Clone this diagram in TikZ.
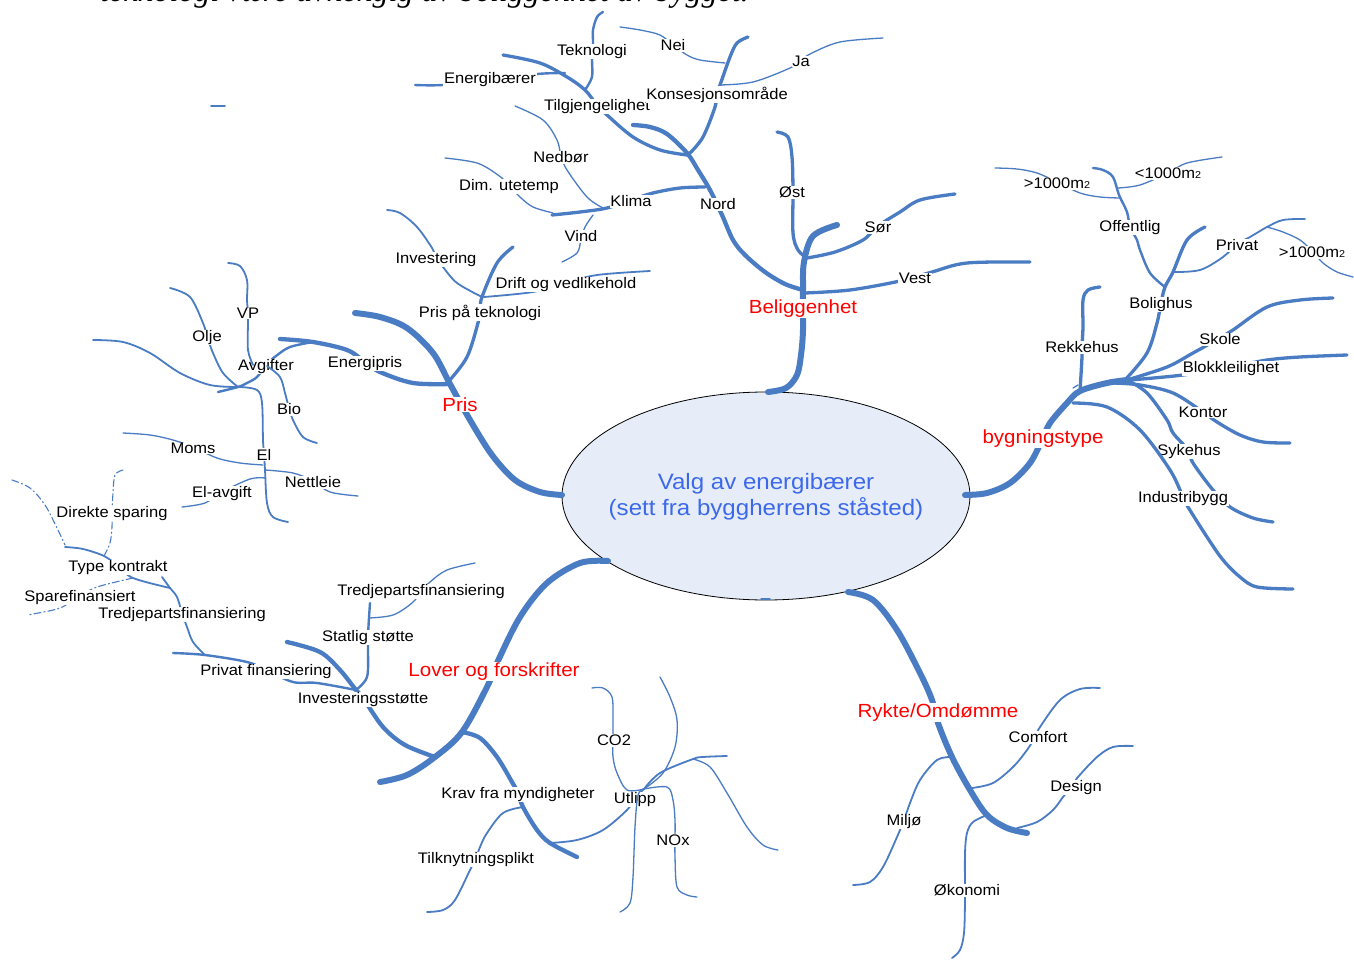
\documentclass[tikz,border=0pt]{standalone}
\usepackage{fontspec}
\setmainfont{Liberation Sans}[FakeStretch=1.08]
\newfontfamily\headserif{Liberation Serif}
\definecolor{branch}{RGB}{74,124,195}
\definecolor{hubfill}{RGB}{230,237,248}
\definecolor{hubtext}{RGB}{60,105,235}
% one organic branch of the mind map, drawn through a list of points
\newcommand\twig[2]{\draw[#1] plot[smooth,tension=0.55] coordinates {#2};}
\newcommand\msq{m{\fontsize{10}{10}\selectfont 2}}
\begin{document}
\begin{tikzpicture}[x=1pt,y=-1pt,
  br/.style={draw=branch,line cap=round,line join=round},
  wa/.style={br,line width=6pt},
  wb/.style={br,line width=4.3pt},
  wc/.style={br,line width=3.3pt},
  wd/.style={br,line width=2.4pt},
  we/.style={br,line width=1.8pt},
  wf/.style={br,line width=1.3pt},
  wdash/.style={br,line width=1.1pt,dash pattern=on 7pt off 3pt on 1.2pt off 3pt},
  lbl/.style={fill=white,inner sep=0.6pt,yshift=-1.5pt,font=\fontsize{15.3}{16}\selectfont},
  cat/.style={fill=white,inner sep=1pt,yshift=-1.5pt,text=red,font=\fontsize{19}{20}\selectfont}]
\useasboundingbox (0,0) rectangle (1354,960);
\clip (0,0) rectangle (1354,960);
\fill[white] (0,0) rectangle (1354,960);

% heading line running off the top edge
\node[anchor=base west,inner sep=0,font=\headserif\itshape\fontsize{32}{36}\selectfont] (head) at (100,1.5) {teknologi være avhengig av beliggenhet av bygget.};

% central topic
\draw[fill=hubfill,line width=0.8pt] (766,496) ellipse [x radius=204pt,y radius=104pt];
\node[align=center,text=hubtext,font=\fontsize{22.3}{26}\selectfont] (hub) at (766,497) {Valg av energibærer\\(sett fra byggherrens ståsted)};
\draw[wf] (761,599) -- (770,599);

% ---------------- Beliggenhet ----------------
\coordinate (belA) at (768,392);
\coordinate (belJ) at (803,290);
\coordinate (belK) at (807,258);
\coordinate (belV) at (805,293);
\twig{wa}{(belA) (786,388) (797,375) (801,355) (803,330) (belJ) (804,262) (813,236) (837,225)}
\node[cat] (bel) at (803,307) {Beliggenhet};

\coordinate (nordK) at (705,187);
\coordinate (nordT) at (687,155);
\twig{wb}{(belJ) (785,284) (765,272) (745,255) (733,240) (722,215) (710,190) (698,170) (687,153) (667,134) (650,127) (633,125)}
\node[lbl] (nord) at (718,203) {Nord};

\twig{wc}{(nordK) (680,188) (653,193) (631,200) (607,208) (580,212) (552,215)}
\node[lbl] (klima) at (631,200) {Klima};
\twig{wc}{(nordT) (660,150) (633,137) (607,115) (597,105) (585,90) (567,77) (540,63) (503,55)}
\node[lbl] (tilg) at (597,105) {Tilgjengelighet};
\twig{wc}{(690,153) (703,137) (715,107) (717,93) (720,85) (730,57) (737,43) (748,37)}
\node[lbl] (kons) at (717,93) {Konsesjonsområde};

\twig{wd}{(565,73) (537,74) (490,80) (443,85) (415,85)}
\node[lbl] (ebar) at (490,78) {Energibærer};
\draw[we] (211,106) -- (225,106);
\twig{wd}{(585,90) (592,77) (592,60) (593,43) (593,30) (597,17) (603,12)}
\node[lbl] (tekn) at (592,50) {Teknologi};
\twig{wf}{(725,63) (700,60) (687,55) (673,45) (660,35) (640,30) (620,27)}
\node[lbl] (nei) at (673,44) {Nei};
\twig{wf}{(720,85) (753,82) (790,68) (801,60) (812,53) (840,42) (883,38)}
\node[lbl] (ja) at (801,60) {Ja};

\twig{wf}{(603,208) (587,197) (567,170) (561,156) (557,140) (543,120) (515,106)}
\node[lbl] (nedb) at (561,156) {Nedbør};
\twig{wf}{(553,213) (533,207) (520,197) (509,185) (498,175) (477,163) (445,158)}
\node[lbl] (dim) at (509,185) {Dim. utetemp};
\twig{wf}{(593,215) (585,227) (581,240) (577,253) (562,262)}
\node[lbl] (vind) at (581,235) {Vind};

\twig{wc}{(777,132) (788,137) (792,157) (793,191) (793,233) (798,250) (belK)}
\node[lbl] (ost) at (792,191) {Øst};
\twig{wc}{(belK) (835,252) (863,240) (878,226) (900,212) (920,200) (955,194)}
\node[lbl] (sor) at (878,226) {Sør};
\twig{wc}{(belV) (850,290) (900,281) (932,272) (967,263) (1030,262)}
\node[lbl] (vest) at (915,277) {Vest};

% ---------------- Pris ----------------
\coordinate (prisA) at (562,495);
\coordinate (prisJ) at (450,384);
\twig{wa}{(prisA) (540,492) (515,480) (492,455) (470,420) (prisJ) (433,353) (407,328) (380,317) (355,313)}
\node[cat] (pris) at (460,403) {Pris};

\coordinate (epJ) at (313,342);
\twig{wb}{(prisJ) (413,383) (380,372) (365,362) (347,350) (epJ) (280,339)}
\node[lbl] (epris) at (365,362) {Energipris};
\coordinate (ptJ) at (482,297);
\twig{wc}{(449,381) (467,357) (478,323) (480,311) (ptJ) (497,263) (513,247)}
\node[lbl] (ptek) at (480,311) {Pris på teknologi};
\twig{we}{(ptJ) (457,283) (443,267) (436,258) (432,248) (417,227) (400,213) (387,210)}
\node[lbl] (inv) at (436,258) {Investering};
\twig{we}{(484,297) (533,292) (566,283) (597,275) (650,271)}
\node[lbl] (drift) at (566,283) {Drift og vedlikehold};

\coordinate (avJ) at (238,387);
\twig{wd}{(epJ) (290,347) (276,356) (266,365) (257,377) (247,383) (avJ) (218,392)}
\node[lbl] (avg) at (266,365) {Avgifter};
\twig{we}{(253,365) (248,350) (248,323) (248,312) (247,300) (247,280) (240,266) (228,263)}
\node[lbl] (vp) at (248,312) {VP};
\twig{we}{(avJ) (223,373) (213,353) (207,336) (203,323) (190,297) (170,288)}
\node[lbl] (olje) at (207,336) {Olje};
\twig{we}{(267,366) (280,377) (285,393) (289,408) (293,420) (303,437) (317,443)}
\node[lbl] (bio) at (289,408) {Bio};
\twig{we}{(93,340) (123,342) (150,353) (180,373) (210,385) (avJ)}
\coordinate (elJ) at (265,470);
\twig{we}{(240,387) (257,390) (262,403) (263,440) (264,453) (elJ) (267,503) (273,517) (288,522)}
\node[lbl] (el) at (264,453) {El};
\twig{wf}{(263,465) (240,463) (217,458) (193,447) (173,440) (150,435) (123,433)}
\node[lbl] (moms) at (193,447) {Moms};
\twig{wf}{(elJ) (293,473) (313,481) (330,492) (358,496)}
\node[lbl] (nett) at (313,481) {Nettleie};
\twig{wf}{(265,478) (250,479) (222,492) (205,503) (182,507)}
\node[lbl] (elavg) at (222,492) {El-avgift};

% ---------------- Lover og forskrifter ----------------
\coordinate (lovA) at (608,561);
\coordinate (lovK) at (462,732);
\coordinate (lovI) at (435,757);
\twig{wa}{(lovA) (580,563) (547,583) (520,617) (497,663) (487,687) (lovK) (lovI) (407,775) (380,782)}
\node[cat] (lover) at (494,670) {Lover og forskrifter};

\coordinate (isJ) at (356,690);
\twig{wb}{(lovI) (405,745) (383,727) (363,698) (isJ) (340,670) (320,652) (287,642)}
\node[lbl] (invst) at (363,698) {Investeringsstøtte};
\coordinate (ssJ) at (369,618);
\twig{wd}{(isJ) (367,677) (368,650) (368,636) (ssJ) (370,603)}
\node[lbl] (statlig) at (368,636) {Statlig støtte};
\twig{wf}{(ssJ) (393,615) (412,603) (422,591) (430,582) (447,570) (475,563)}
\node[lbl] (tredjeR) at (421,590) {Tredjepartsfinansiering};
\coordinate (pfJ) at (205,655);
\twig{wd}{(isJ) (317,683) (293,682) (266,670) (247,662) (pfJ) (173,653)}
\node[lbl] (privfin) at (266,670) {Privat finansiering};
\coordinate (tkJ) at (170,588);
\twig{we}{(pfJ) (193,642) (187,627) (182,613) (177,597) (tkJ) (162,577)}
\node[lbl] (tredjeL) at (182,613) {Tredjepartsfinansiering};
\coordinate (tkA) at (104,556);
\coordinate (tkB) at (133,578);
\twig{we}{(tkJ) (tkB) (118,566) (tkA) (83,549) (65,547)}
\node[lbl] (typek) at (118,566) {Type kontrakt};
\twig{wdash}{(tkA) (110,543) (112,527) (112,512) (113,493) (115,475) (123,470)}
\node[lbl] (direkte) at (112,512) {Direkte sparing};
\twig{wdash}{(tkB) (97,587) (80,596) (60,608) (33,614) (27,615)}
\node[lbl] (spare) at (80,596) {Sparefinansiert};
\twig{wdash}{(12,480) (30,488) (45,505) (57,528) (65,545)}

\coordinate (kvJ) at (523,807);
\coordinate (kvU) at (550,843);
\twig{wb}{(lovK) (480,738) (497,757) (512,782) (518,793) (kvJ) (537,830) (kvU) (577,857)}
\node[lbl] (krav) at (518,793) {Krav fra myndigheter};
\twig{we}{(kvJ) (503,813) (487,833) (480,847) (476,858) (470,870) (455,900) (443,910) (427,912)}
\node[lbl] (tilkn) at (476,858) {Tilknytningsplikt};
\coordinate (utJ) at (644,789);
\twig{we}{(kvU) (577,840) (603,830) (627,810) (635,798) (utJ)}
\node[lbl] (utlipp) at (635,798) {Utlipp};
\twig{wf}{(utJ) (627,790) (617,773) (613,757) (613,739) (613,720) (612,697) (603,688) (592,688)}
\node[lbl] (co2) at (614,739) {CO2};
\twig{wf}{(utJ) (667,787) (673,800) (675,820) (675,839) (675,857) (677,887) (687,895) (697,897)}
\node[lbl] (nox) at (673,839) {NOx};
\twig{wf}{(utJ) (638,795) (635,827) (633,877) (630,903) (620,912)}
\twig{wf}{(utJ) (663,773) (675,747) (677,720) (670,697) (660,677)}
\coordinate (utR) at (693,759);
\twig{we}{(utJ) (660,773) (utR) (703,757) (727,756)}
\twig{wf}{(utR) (710,767) (727,793) (747,827) (763,845) (778,850)}

% ---------------- Rykte/Omdømme ----------------
\coordinate (ryA) at (848,592);
\coordinate (ryM) at (952,757);
\coordinate (ryC) at (972,788);
\coordinate (ryO) at (987,815);
\coordinate (ryD) at (1017,828);
\twig{wa}{(ryA) (873,600) (897,630) (920,673) (932,700) (938,723) (ryM) (970,790) (ryO) (1007,828) (1027,833)}
\node[cat] (rykte) at (938,711) {Rykte/Omdømme};
\twig{we}{(ryM) (937,760) (920,780) (910,803) (904,820) (897,837) (883,867) (870,882) (853,885)}
\node[lbl] (miljo) at (904,820) {Miljø};
\twig{we}{(ryC) (993,783) (1013,767) (1027,750) (1035,737) (1040,727) (1060,700) (1080,689) (1100,688)}
\node[lbl] (comfort) at (1038,736) {Comfort};
\twig{we}{(ryD) (1037,822) (1053,810) (1063,797) (1072,786) (1078,777) (1097,757) (1113,747) (1133,746)}
\node[lbl] (design) at (1076,786) {Design};
\twig{we}{(ryO) (973,822) (967,833) (965,853) (965,889) (965,902) (964,933) (960,950) (952,958)}
\node[lbl] (okon) at (967,889) {Økonomi};

% ---------------- bygningstype ----------------
\coordinate (byA) at (965,495);
\coordinate (byF) at (1127,380);
\coordinate (byR) at (1080,391);
\coordinate (byI) at (1073,403);
\twig{wa}{(byA) (987,493) (1010,483) (1030,463) (1042,440) (1050,423) (1067,403) (byR) (1107,383) (byF)}
\node[cat] (bygn) at (1043,437) {bygningstype};

\coordinate (boJ) at (1165,287);
\coordinate (boP) at (1173,272);
\twig{wc}{(1125,380) (1147,353) (1157,323) (1161,303) (boJ) (boP) (1187,240) (1205,227)}
\node[lbl] (bolig) at (1161,303) {Bolighus};
\twig{wc}{(byF) (1167,367) (1193,353) (1220,338) (1233,330) (1267,307) (1300,300) (1333,298)}
\node[lbl] (skole) at (1220,338) {Skole};
\twig{wc}{(1130,380) (1183,375) (1231,367) (1267,360) (1300,357) (1347,355)}
\node[lbl] (blokk) at (1231,367) {Blokkleilighet};
\twig{wc}{(1113,383) (1140,385) (1173,393) (1203,412) (1217,422) (1240,435) (1263,442) (1290,443)}
\node[lbl] (kontor) at (1203,411) {Kontor};
\twig{wc}{(byF) (1147,393) (1167,420) (1173,433) (1188,450) (1193,463) (1213,490) (1230,507) (1253,518) (1273,522)}
\node[lbl] (sykehus) at (1189,450) {Sykehus};
\twig{wc}{(byI) (1107,407) (1140,430) (1170,470) (1183,497) (1188,507) (1207,537) (1223,560) (1240,577) (1257,587) (1293,589)}
\node[lbl] (indu) at (1183,497) {Industribygg};
\twig{wc}{(byR) (1082,357) (1082,346) (1083,327) (1083,300) (1088,290) (1100,287)}
\node[lbl] (rekke) at (1082,346) {Rekkehus};
\draw[wf] (1073,388) -- (1078,385);

\coordinate (ofJ) at (1119,195);
\twig{wd}{(boJ) (1150,273) (1140,250) (1137,240) (1130,227) (1127,212) (ofJ) (1113,177) (1103,170) (1093,168)}
\node[lbl] (offentlig) at (1130,226) {Offentlig};
\coordinate (prJ) at (1267,227);
\twig{we}{(boP) (1200,270) (1223,257) (1237,244) (1250,237) (prJ) (1283,220) (1305,219)}
\node[lbl] (privat) at (1237,244) {Privat};
\twig{wf}{(1120,198) (1100,197) (1080,193) (1057,182) (1037,173) (1017,169) (995,168)}
\node[lbl] (storL) at (1057,182) {>1000\msq};
\twig{wf}{(1118,188) (1140,185) (1168,173) (1187,163) (1222,157)}
\node[lbl] (liten) at (1168,172) {<1000\msq};
\twig{wf}{(prJ) (1283,232) (1300,240) (1312,251) (1323,263) (1337,272) (1353,277)}
\node[lbl] (storR) at (1312,251) {>1000\msq};
\end{tikzpicture}
\end{document}
